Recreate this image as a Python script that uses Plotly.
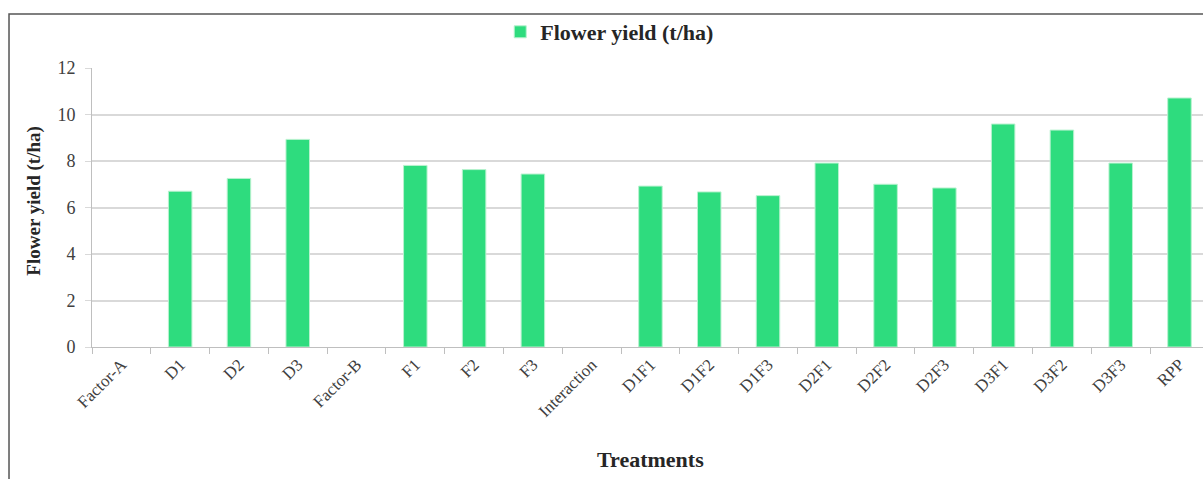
import plotly.graph_objects as go

categories = ["Factor-A", "D1", "D2", "D3", "Factor-B", "F1", "F2", "F3", "Interaction",
              "D1F1", "D1F2", "D1F3", "D2F1", "D2F2", "D2F3", "D3F1", "D3F2", "D3F3", "RPP"]
flower_yield = [None, 6.70, 7.25, 8.93, None, 7.81, 7.63, 7.44, None,
                6.92, 6.67, 6.51, 7.91, 7.00, 6.84, 9.59, 9.33, 7.91, 10.71]
y_ticks = [0, 2, 4, 6, 8, 10, 12]

serif = "Liberation Serif"

fig = go.Figure()
fig.add_trace(go.Bar(
    x=categories, y=flower_yield, name="Flower yield (t/ha)",
    marker=dict(color="#2EDC7E", line=dict(color="#B8F2CF", width=1)),
    width=0.4,
))

fig.update_layout(
    width=1203, height=479,
    margin=dict(l=92, r=0, t=68, b=132),
    paper_bgcolor="white", plot_bgcolor="white",
    font=dict(family=serif, color="#404040"),
    showlegend=True,
    legend=dict(orientation="h", x=0.466, y=1.129, xanchor="center", yanchor="middle",
                font=dict(family=serif, size=22, color="#262626", weight="bold"),
                bgcolor="rgba(0,0,0,0)", itemwidth=30),
    bargap=0.6,
)
fig.update_xaxes(
    type="category", range=[-0.5, 18.4],
    tickangle=-45, tickfont=dict(family=serif, size=17, color="#404040"),
    showline=True, linecolor="#BFBFBF", linewidth=1,
    ticks="outside", tickson="boundaries", ticklen=6, tickcolor="#BFBFBF",
    showgrid=False,
)
fig.update_yaxes(
    range=[0, 12], tickvals=y_ticks,
    tickfont=dict(family=serif, size=18, color="#404040"),
    showline=True, linecolor="#BFBFBF", linewidth=1,
    ticks="outside", ticklen=6, tickcolor="#D9D9D9", ticklabelstandoff=6,
    showgrid=True, gridcolor="#D9D9D9", gridwidth=1.5, zeroline=False,
)

fig.add_annotation(text="Treatments", xref="paper", yref="paper", x=0.503, y=-0.404,
                   showarrow=False, yanchor="middle",
                   font=dict(family=serif, size=22, color="#262626", weight="bold"))
fig.add_annotation(text="Flower yield (t/ha)", xref="paper", yref="paper", x=-0.053, y=0.525,
                   showarrow=False, textangle=-90, xanchor="center",
                   font=dict(family=serif, size=19, color="#262626", weight="bold"))

fig.add_shape(type="rect", xref="paper", yref="paper",
              x0=-0.0747, x1=1.02, y0=-0.6, y1=1.1935,
              line=dict(color="#555555", width=1.5), layer="below")

fig.write_html("out.html")
